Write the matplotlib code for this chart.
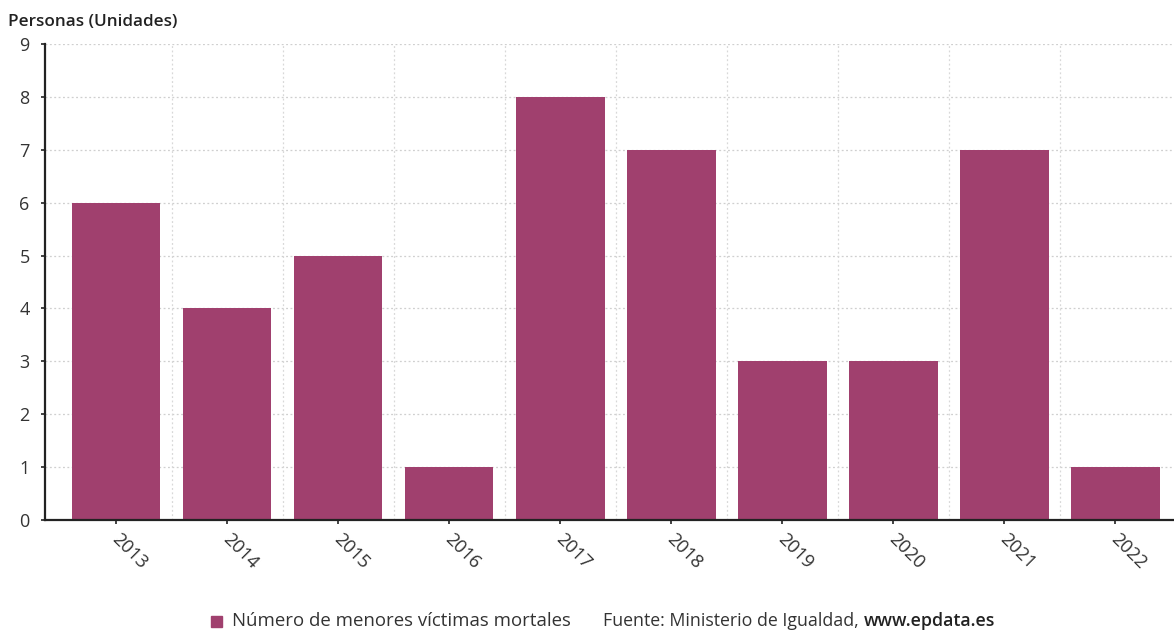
import matplotlib
matplotlib.use("Agg")
import matplotlib.pyplot as plt
import matplotlib.transforms as mtransforms
from matplotlib.patches import Rectangle

years = ["2013", "2014", "2015", "2016", "2017", "2018", "2019", "2020", "2021", "2022"]
victims = [6, 4, 5, 1, 8, 7, 3, 3, 7, 1]
y_ticks = [0, 1, 2, 3, 4, 5, 6, 7, 8, 9]

series_name = "Número de menores víctimas mortales"
source_text = "Fuente: Ministerio de Igualdad, "
source_site = "www.epdata.es"
y_title = "Personas (Unidades)"

bar_color = "#A0406E"
plt.rcParams["font.family"] = ["Open Sans", "DejaVu Sans"]

fig = plt.figure(figsize=(11.74, 6.31), dpi=100)
ax = fig.add_axes([45 / 1174, 111 / 631, 1129 / 1174, 476 / 631])

x = list(range(len(years)))
ax.bar(x, victims, width=0.8, color=bar_color, zorder=3)

ax.set_xlim(-0.64, 9.53)
ax.set_ylim(0, 9)
ax.set_yticks(y_ticks)
ax.set_xticks(x)
ax.set_xticklabels(years, rotation=-45, ha="left", va="top", rotation_mode="anchor",
                   fontsize=13.2, color="#333333")
ax.tick_params(axis="x", length=3, width=1.2, color="#222222", pad=4)
ax.tick_params(axis="y", length=3, width=1.2, color="#222222", labelsize=13,
               labelcolor="#333333", pad=8)

# nudge the slanted year labels slightly to the right
shift = mtransforms.ScaledTranslation(5 / 100, 0, fig.dpi_scale_trans)
for lbl in ax.get_xticklabels():
    lbl.set_transform(lbl.get_transform() + shift)

# grid: horizontal at each unit, vertical at category boundaries
ax.set_axisbelow(True)
ax.yaxis.grid(True, linestyle=(0, (1.5, 2)), color="#cfcfcf", linewidth=0.9)
for b in [i + 0.5 for i in range(len(years) - 1)]:
    ax.axvline(b, linestyle=(0, (1.5, 2)), color="#d8d8d8", linewidth=0.9, zorder=1)

for side in ["top", "right"]:
    ax.spines[side].set_visible(False)
for side in ["left", "bottom"]:
    ax.spines[side].set_linestyle((0, (2, 1)))
    ax.spines[side].set_linewidth(1.6)
    ax.spines[side].set_color("#222222")
    ax.spines[side].set_zorder(4)

fig.text(8 / 1174, 1 - 22 / 631, y_title, fontsize=12.3, fontweight="semibold",
         color="#222222", va="center", ha="left")

# legend row at the bottom
leg_y = 1 - 621 / 631
fig.patches.append(Rectangle((211 / 1174, leg_y - 6 / 631), 11 / 1174, 11 / 631,
                             transform=fig.transFigure, color=bar_color))
fig.text(232 / 1174, leg_y, series_name, fontsize=13.4, color="#333333",
         va="center", ha="left")
t = fig.text(603 / 1174, leg_y, source_text, fontsize=12.8, color="#333333",
             va="center", ha="left")
fig.canvas.draw()
bb = t.get_window_extent()
fig.text(bb.x1 / 1174, leg_y, source_site, fontsize=12.8, color="#222222",
         fontweight="semibold", va="center", ha="left")

fig.savefig("out.png", dpi=100)
